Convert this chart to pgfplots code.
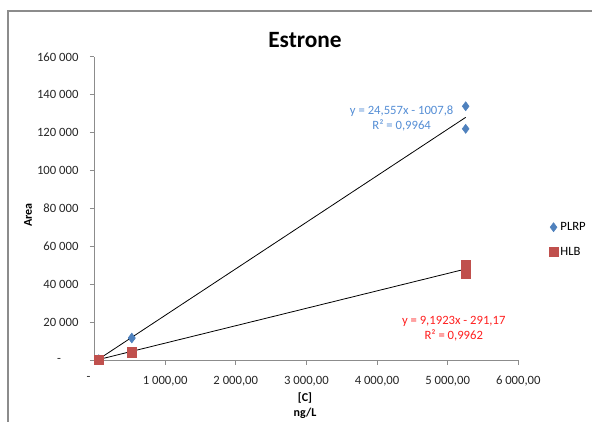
\documentclass[border=0pt]{standalone}
\usepackage{pgfplots}
\pgfplotsset{compat=1.18}
\usepackage{fontspec}
\setmainfont{Carlito}
\definecolor{plrp}{HTML}{4F81BD}
\definecolor{hlb}{HTML}{C0504D}
\definecolor{eqblue}{HTML}{558ED5}
\definecolor{eqred}{HTML}{FF1F1F}
\definecolor{axgrey}{HTML}{8C8C8C}
\begin{document}
\begin{tikzpicture}
\useasboundingbox (0,0) rectangle (444pt,315.75pt);
\begin{scope}
\clip (0,0) rectangle (444pt,315.75pt);
\draw[axgrey, line width=0.8pt] (6pt,-20pt) -- (6pt,307.5pt) -- (470pt,307.5pt);
\end{scope}
\node[font=\bfseries\fontsize{17.5}{20}\selectfont] at (228.75pt,285.75pt) {Estrone};
\node[font=\bfseries\fontsize{9}{10}\selectfont, rotate=90] at (21pt,154.5pt) {Area};
\node[font=\bfseries\fontsize{9}{10}\selectfont] at (228.75pt,17.25pt) {[C]};
\node[font=\bfseries\fontsize{9}{10}\selectfont] at (228.75pt,6pt) {ng/L};
\begin{axis}[
  at={(70.875pt,45.75pt)}, anchor=south west,
  scale only axis, width=317.85pt, height=227.4pt,
  xmin=0, xmax=6000, ymin=0, ymax=160000,
  scaled x ticks=false, scaled y ticks=false,
  axis x line*=bottom, axis y line*=left,
  axis line style={axgrey, line width=0.6pt, -},
  tick align=outside, major tick length=3.5pt,
  tick style={axgrey, line width=0.6pt},
  xtick={0,1000,2000,3000,4000,5000,6000},
  xticklabels={-\kern9pt\relax,1 000{,}00,2 000{,}00,3 000{,}00,4 000{,}00,5 000{,}00,6 000{,}00},
  ytick={0,20000,40000,60000,80000,100000,120000,140000,160000},
  yticklabels={-\kern13pt\relax,20 000,40 000,60 000,80 000,100 000,120 000,140 000,160 000},
  ticklabel style={font=\fontsize{9.5}{11}\selectfont, text=black!85},
  yticklabel style={xshift=-5pt},
  xticklabel style={yshift=-5pt},
  /pgf/number format/assume math mode=true,
  clip=false,
  legend style={at={(1.063,0.397)}, anchor=west, draw=none, fill=none,
    font=\fontsize{9.5}{11}\selectfont, row sep=7pt,
    legend cell align=left},
]
\addplot[only marks, mark=diamond*, mark size=3.4pt, color=plrp, mark options={fill=plrp, draw=plrp}]
  coordinates {(60,400) (528,11800) (528,11400) (5255,133900) (5255,122000)};
\addlegendentry{PLRP}
\addplot[only marks, mark=square*, mark size=3.2pt, color=hlb, mark options={fill=hlb, draw=hlb}]
  coordinates {(60,200) (528,4400) (528,3900) (5255,50400) (5255,45400)};
\addlegendentry{HLB}
\addplot[black, line width=0.6pt, forget plot] coordinates {(60,466) (5255,128039)};
\addplot[black, line width=0.6pt, forget plot] coordinates {(60,260) (5255,48015)};
\node[text=eqblue, font=\fontsize{9.5}{11.5}\selectfont, align=center] at (axis cs:4349,127440) {y = 24,557x - 1007,8\\R² = 0,9964};
\node[text=eqred, font=\fontsize{9.5}{11.5}\selectfont, align=center] at (axis cs:5086,16360) {y = 9,1923x - 291,17\\R² = 0,9962};
\end{axis}
\end{tikzpicture}
\end{document}
